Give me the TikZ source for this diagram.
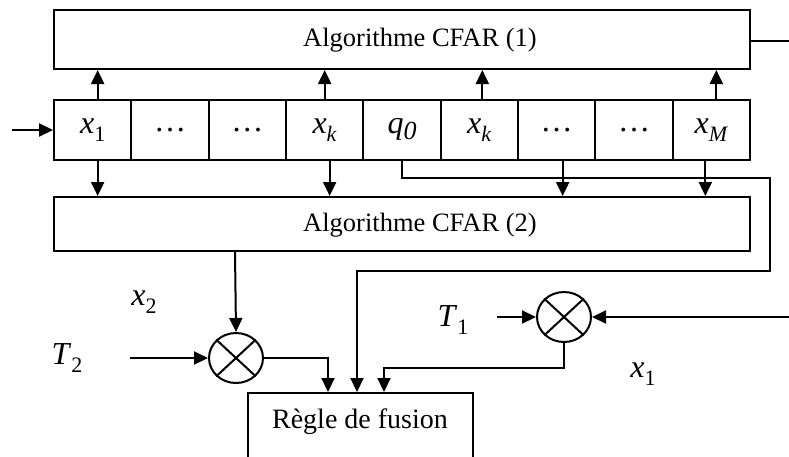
\documentclass[tikz,border=0pt]{standalone}
\usepackage{fontspec}
\setmainfont{Liberation Serif}
\usetikzlibrary{arrows.meta,shapes.geometric}
\newcommand\vsb[2]{\textit{#1}\raisebox{-0.25em}{\fontsize{22}{24}\selectfont #2}}
\begin{document}
\begin{tikzpicture}[x=1pt,y=-1pt, line width=2pt,
  arr/.style={-{Triangle[length=14pt,width=13pt]}},
  box/.style={draw, rectangle, inner sep=0pt},
  cell/.style={draw, rectangle, minimum width=77.33pt, minimum height=60pt, inner sep=0pt, font=\fontsize{32}{34}\selectfont},
  mult/.style={draw, ellipse, minimum width=54pt, minimum height=50pt, inner sep=0pt},
  lbl/.style={font=\fontsize{32}{34}\selectfont, inner sep=0pt},
  rtxt/.style={font=\fontsize{28}{30}\selectfont, inner sep=0pt},
  btxt/.style={font=\fontsize{26.5}{30}\selectfont, inner sep=0pt}]
\useasboundingbox (0,0) rectangle (789,456);
\clip (0,0) rectangle (789,456);
% boxes
\node[box, minimum width=696pt, minimum height=59pt] (cfar1) at (402,39.5) {};
\node[btxt] (cfar1t) at (420,40) {Algorithme CFAR (1)};
\node[box, minimum width=696pt, minimum height=54pt] (cfar2) at (402,224) {};
\node[btxt] (cfar2t) at (420,225) {Algorithme CFAR (2)};
% cells
\node[cell] (c1) at (92.67,130) {\vsb{x}{1}};
\node[cell] (c2) at (170,130) {\dots};
\node[cell] (c3) at (247.33,130) {\dots};
\node[cell] (c4) at (324.67,130) {\vsb{x}{\textit{k}}};
\node[cell] (c5) at (402,130) {\vsb{q}{\raisebox{0.1em}{\fontsize{26}{28}\selectfont\textit{0}}}};
\node[cell] (c6) at (479.33,130) {\vsb{x}{\textit{k}}};
\node[cell] (c7) at (556.67,130) {\dots};
\node[cell] (c8) at (634,130) {\dots};
\node[cell] (c9) at (711.33,130) {\vsb{x}{\textit{M}}};
% fusion box
\node[box, minimum width=225pt, minimum height=74pt] (regle) at (360.5,430) {};
\node[rtxt] (reglet) at (360,422) {Règle de fusion};
% multipliers
\node[mult] (m2) at (236,358) {};
\draw (m2.north east) -- (m2.south west) (m2.north west) -- (m2.south east);
\node[mult] (m1) at (564,317) {};
\draw (m1.north east) -- (m1.south west) (m1.north west) -- (m1.south east);
% labels
\node[lbl] (T2) at (67,358) {\vsb{T}{2}};
\node[lbl] (X2) at (144,302) {\vsb{x}{2}};
\node[lbl] (T1) at (453,320) {\vsb{T}{1}};
\node[lbl] (X1) at (643,374) {\vsb{x}{1}};
% free ends
\coordinate (in) at (12,130);
\coordinate (out1) at (789,41);
\coordinate (t2s) at (130,358);
\coordinate (t1s) at (497,317);
\coordinate (x1s) at (789,317);
% input
\draw[arr] (in) -- (c1.west);
% up arrows
\draw[arr] ([xshift=5pt]c1.north) -- ([xshift=5pt]c1.north |- cfar1.south);
\draw[arr] ([xshift=0pt]c4.north) -- ([xshift=0pt]c4.north |- cfar1.south);
\draw[arr] ([xshift=3pt]c6.north) -- ([xshift=3pt]c6.north |- cfar1.south);
\draw[arr] ([xshift=5pt]c9.north) -- ([xshift=5pt]c9.north |- cfar1.south);
% down arrows
\draw[arr] ([xshift=5pt]c1.south) -- ([xshift=5pt]c1.south |- cfar2.north);
\draw[arr] ([xshift=5pt]c4.south) -- ([xshift=5pt]c4.south |- cfar2.north);
\draw[arr] ([xshift=6pt]c7.south) -- ([xshift=6pt]c7.south |- cfar2.north);
\draw[arr] ([xshift=-6pt]c9.south) -- ([xshift=-6pt]c9.south |- cfar2.north);
% cfar1 output
\draw ([yshift=-1.5pt]cfar1.east) -- (out1);
% q0 path
\coordinate (qa) at (357,271);
\draw[arr] (c5.south) -- ++(0,17) -| (770,271) -- (qa) -- (qa |- regle.north);
% cfar2 to m2
\draw[arr] (cfar2.south -| 235,0) -- (m2.north);
\draw[arr] (t2s) -- (m2.west);
\coordinate (m2o) at (328,358);
\draw[arr] (m2.east) -- (m2o) -- (m2o |- regle.north);
% m1
\draw[arr] (t1s) -- (m1.west);
\draw[arr] (x1s) -- (m1.east);
\coordinate (m1o) at (384,368);
\draw[arr] (m1.south) -- (m1.south |- m1o) -- (m1o) -- (m1o |- regle.north);
\end{tikzpicture}
\end{document}
